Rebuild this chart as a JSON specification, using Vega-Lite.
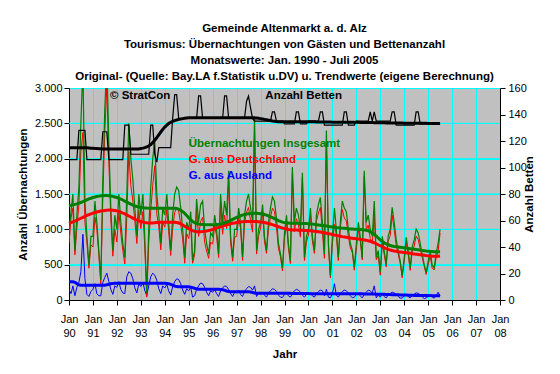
{
"$schema": "https://vega.github.io/schema/vega-lite/v6.json",
"width": 431, "height": 212,
"autosize": {"type": "none"},
"padding": {"left": 69, "top": 88, "right": 60, "bottom": 74},
"background": "white",
"title": {"text": ["Gemeinde Altenmarkt a. d. Alz", "Tourismus: Übernachtungen von Gästen und Bettenanzahl", "Monatswerte: Jan. 1990 - Juli 2005", "Original- (Quelle: Bay.LA f.Statistik u.DV) u. Trendwerte (eigene Berechnung)"], "anchor": "middle", "frame": "group", "font": "Liberation Sans", "fontSize": 11.5, "fontWeight": "bold", "color": "black", "lineHeight": 16.3, "offset": -1},
"data": {"values": [
{"d":"1990-01-01","t":950,"g":800,"a":150,"tt":1334,"tg":1085,"ta":259,"b":106,"tb":115},
{"d":"1990-02-01","t":1250,"g":1160,"a":90,"tt":1340,"tg":1095,"ta":259,"b":106,"tb":115},
{"d":"1990-03-01","t":1500,"g":1300,"a":200,"tt":1346,"tg":1105,"ta":258,"b":106,"tb":115},
{"d":"1990-04-01","t":700,"g":640,"a":60,"tt":1353,"tg":1117,"ta":250,"b":106,"tb":115},
{"d":"1990-05-01","t":1200,"g":1020,"a":180,"tt":1361,"tg":1130,"ta":232,"b":106,"tb":115},
{"d":"1990-06-01","t":1600,"g":1350,"a":250,"tt":1370,"tg":1143,"ta":215,"b":128,"tb":115},
{"d":"1990-07-01","t":2500,"g":2100,"a":400,"tt":1380,"tg":1157,"ta":210,"b":128,"tb":115},
{"d":"1990-08-01","t":3300,"g":2370,"a":930,"tt":1392,"tg":1170,"ta":208,"b":128,"tb":115},
{"d":"1990-09-01","t":1400,"g":1100,"a":300,"tt":1405,"tg":1183,"ta":208,"b":128,"tb":115},
{"d":"1990-10-01","t":900,"g":820,"a":80,"tt":1418,"tg":1196,"ta":208,"b":106,"tb":115},
{"d":"1990-11-01","t":500,"g":450,"a":50,"tt":1430,"tg":1208,"ta":208,"b":106,"tb":114.8},
{"d":"1990-12-01","t":900,"g":780,"a":120,"tt":1440,"tg":1219,"ta":208,"b":106,"tb":114.6},
{"d":"1991-01-01","t":900,"g":750,"a":150,"tt":1450,"tg":1229,"ta":208,"b":106,"tb":114.5},
{"d":"1991-02-01","t":1400,"g":1170,"a":230,"tt":1458,"tg":1238,"ta":208,"b":106,"tb":114.4},
{"d":"1991-03-01","t":1100,"g":1010,"a":90,"tt":1465,"tg":1246,"ta":208,"b":106,"tb":114.3},
{"d":"1991-04-01","t":700,"g":640,"a":60,"tt":1470,"tg":1253,"ta":208,"b":106,"tb":114.2},
{"d":"1991-05-01","t":280,"g":220,"a":60,"tt":1474,"tg":1259,"ta":208,"b":106,"tb":114.1},
{"d":"1991-06-01","t":1700,"g":1450,"a":250,"tt":1476,"tg":1264,"ta":208,"b":127,"tb":114},
{"d":"1991-07-01","t":2700,"g":2380,"a":320,"tt":1478,"tg":1268,"ta":210,"b":127,"tb":114},
{"d":"1991-08-01","t":3400,"g":3020,"a":380,"tt":1478,"tg":1271,"ta":215,"b":127,"tb":114},
{"d":"1991-09-01","t":2200,"g":1940,"a":260,"tt":1476,"tg":1273,"ta":222,"b":106,"tb":114},
{"d":"1991-10-01","t":1300,"g":1150,"a":150,"tt":1472,"tg":1273,"ta":230,"b":106,"tb":114},
{"d":"1991-11-01","t":700,"g":620,"a":80,"tt":1466,"tg":1271,"ta":235,"b":106,"tb":114},
{"d":"1991-12-01","t":1200,"g":1000,"a":200,"tt":1458,"tg":1267,"ta":236,"b":106,"tb":114},
{"d":"1992-01-01","t":1000,"g":820,"a":180,"tt":1450,"tg":1261,"ta":236,"b":106,"tb":114},
{"d":"1992-02-01","t":1500,"g":1240,"a":260,"tt":1440,"tg":1253,"ta":236,"b":106,"tb":114},
{"d":"1992-03-01","t":1100,"g":950,"a":150,"tt":1428,"tg":1243,"ta":236,"b":106,"tb":114},
{"d":"1992-04-01","t":800,"g":700,"a":100,"tt":1415,"tg":1231,"ta":236,"b":106,"tb":114},
{"d":"1992-05-01","t":600,"g":510,"a":90,"tt":1400,"tg":1218,"ta":236,"b":132,"tb":114},
{"d":"1992-06-01","t":1500,"g":1170,"a":330,"tt":1385,"tg":1204,"ta":236,"b":132,"tb":114},
{"d":"1992-07-01","t":2500,"g":2100,"a":400,"tt":1370,"tg":1189,"ta":236,"b":132,"tb":114},
{"d":"1992-08-01","t":2000,"g":1620,"a":380,"tt":1356,"tg":1174,"ta":236,"b":110,"tb":114},
{"d":"1992-09-01","t":1700,"g":1400,"a":300,"tt":1343,"tg":1159,"ta":236,"b":110,"tb":114},
{"d":"1992-10-01","t":1300,"g":1130,"a":170,"tt":1332,"tg":1145,"ta":236,"b":110,"tb":114},
{"d":"1992-11-01","t":900,"g":800,"a":100,"tt":1323,"tg":1132,"ta":236,"b":110,"tb":114},
{"d":"1992-12-01","t":1500,"g":1270,"a":230,"tt":1316,"tg":1120,"ta":236,"b":110,"tb":114},
{"d":"1993-01-01","t":1200,"g":1010,"a":190,"tt":1310,"tg":1110,"ta":236,"b":110,"tb":114.3},
{"d":"1993-02-01","t":1500,"g":1250,"a":250,"tt":1306,"tg":1102,"ta":236,"b":110,"tb":114.6},
{"d":"1993-03-01","t":900,"g":760,"a":140,"tt":1303,"tg":1096,"ta":236,"b":110,"tb":115},
{"d":"1993-04-01","t":100,"g":40,"a":60,"tt":1301,"tg":1092,"ta":236,"b":110,"tb":115.5},
{"d":"1993-05-01","t":1000,"g":800,"a":200,"tt":1300,"tg":1090,"ta":236,"b":110,"tb":116.2},
{"d":"1993-06-01","t":1600,"g":1270,"a":330,"tt":1300,"tg":1090,"ta":236,"b":132,"tb":117.3},
{"d":"1993-07-01","t":2000,"g":1620,"a":380,"tt":1300,"tg":1091,"ta":236,"b":132,"tb":118.8},
{"d":"1993-08-01","t":2250,"g":1900,"a":350,"tt":1300,"tg":1093,"ta":236,"b":110,"tb":120.6},
{"d":"1993-09-01","t":1500,"g":1220,"a":280,"tt":1300,"tg":1095,"ta":236,"b":104,"tb":122.6},
{"d":"1993-10-01","t":1200,"g":1040,"a":160,"tt":1300,"tg":1097,"ta":236,"b":115,"tb":124.7},
{"d":"1993-11-01","t":800,"g":710,"a":90,"tt":1300,"tg":1099,"ta":236,"b":115,"tb":126.8},
{"d":"1993-12-01","t":1300,"g":1100,"a":200,"tt":1300,"tg":1100,"ta":236,"b":115,"tb":128.8},
{"d":"1994-01-01","t":1200,"g":1030,"a":170,"tt":1300,"tg":1101,"ta":236,"b":115,"tb":130.5},
{"d":"1994-02-01","t":1500,"g":1280,"a":220,"tt":1300,"tg":1102,"ta":234,"b":115,"tb":132},
{"d":"1994-03-01","t":1100,"g":970,"a":130,"tt":1300,"tg":1102,"ta":230,"b":115,"tb":133.2},
{"d":"1994-04-01","t":700,"g":630,"a":70,"tt":1300,"tg":1102,"ta":222,"b":115,"tb":134.1},
{"d":"1994-05-01","t":1200,"g":1010,"a":190,"tt":1300,"tg":1101,"ta":210,"b":137,"tb":134.8},
{"d":"1994-06-01","t":1500,"g":1240,"a":260,"tt":1298,"tg":1100,"ta":198,"b":155,"tb":135.4},
{"d":"1994-07-01","t":1600,"g":1300,"a":300,"tt":1294,"tg":1097,"ta":190,"b":155,"tb":135.9},
{"d":"1994-08-01","t":1550,"g":1260,"a":290,"tt":1285,"tg":1090,"ta":188,"b":137,"tb":136.3},
{"d":"1994-09-01","t":1300,"g":1070,"a":230,"tt":1270,"tg":1078,"ta":188,"b":137,"tb":136.6},
{"d":"1994-10-01","t":1000,"g":860,"a":140,"tt":1250,"tg":1062,"ta":188,"b":137,"tb":136.9},
{"d":"1994-11-01","t":600,"g":520,"a":80,"tt":1225,"tg":1044,"ta":188,"b":137,"tb":137.1},
{"d":"1994-12-01","t":1100,"g":940,"a":160,"tt":1196,"tg":1025,"ta":188,"b":137,"tb":137.3},
{"d":"1995-01-01","t":1000,"g":870,"a":130,"tt":1165,"tg":1008,"ta":186,"b":137,"tb":137.5},
{"d":"1995-02-01","t":1250,"g":1070,"a":180,"tt":1135,"tg":993,"ta":182,"b":137,"tb":137.6},
{"d":"1995-03-01","t":560,"g":520,"a":40,"tt":1112,"tg":981,"ta":175,"b":137,"tb":137.6},
{"d":"1995-04-01","t":700,"g":640,"a":60,"tt":1095,"tg":972,"ta":166,"b":137,"tb":137.6},
{"d":"1995-05-01","t":1430,"g":1280,"a":150,"tt":1083,"tg":967,"ta":158,"b":137,"tb":137.6},
{"d":"1995-06-01","t":1100,"g":900,"a":200,"tt":1076,"tg":965,"ta":153,"b":154,"tb":137.6},
{"d":"1995-07-01","t":1350,"g":1110,"a":240,"tt":1071,"tg":966,"ta":151,"b":154,"tb":137.6},
{"d":"1995-08-01","t":1400,"g":1170,"a":230,"tt":1068,"tg":968,"ta":151,"b":137,"tb":137.6},
{"d":"1995-09-01","t":1000,"g":820,"a":180,"tt":1066,"tg":972,"ta":151,"b":137,"tb":137.6},
{"d":"1995-10-01","t":800,"g":690,"a":110,"tt":1065,"tg":977,"ta":151,"b":137,"tb":137.6},
{"d":"1995-11-01","t":650,"g":590,"a":60,"tt":1064,"tg":984,"ta":151,"b":137,"tb":137.6},
{"d":"1995-12-01","t":950,"g":820,"a":130,"tt":1064,"tg":991,"ta":151,"b":137,"tb":137.6},
{"d":"1996-01-01","t":900,"g":790,"a":110,"tt":1064,"tg":999,"ta":151,"b":137,"tb":137.6},
{"d":"1996-02-01","t":1200,"g":1050,"a":150,"tt":1065,"tg":1008,"ta":151,"b":137,"tb":137.6},
{"d":"1996-03-01","t":1000,"g":910,"a":90,"tt":1067,"tg":1017,"ta":151,"b":137,"tb":137.6},
{"d":"1996-04-01","t":650,"g":600,"a":50,"tt":1070,"tg":1027,"ta":151,"b":137,"tb":137.6},
{"d":"1996-05-01","t":1500,"g":1370,"a":130,"tt":1075,"tg":1037,"ta":150,"b":137,"tb":137.6},
{"d":"1996-06-01","t":1100,"g":930,"a":170,"tt":1082,"tg":1046,"ta":146,"b":137,"tb":137.6},
{"d":"1996-07-01","t":1400,"g":1200,"a":200,"tt":1091,"tg":1055,"ta":138,"b":154,"tb":137.6},
{"d":"1996-08-01","t":1200,"g":1010,"a":190,"tt":1102,"tg":1064,"ta":128,"b":154,"tb":137.6},
{"d":"1996-09-01","t":1830,"g":1680,"a":150,"tt":1114,"tg":1072,"ta":121,"b":137,"tb":137.6},
{"d":"1996-10-01","t":900,"g":810,"a":90,"tt":1127,"tg":1079,"ta":118,"b":137,"tb":137.6},
{"d":"1996-11-01","t":600,"g":550,"a":50,"tt":1141,"tg":1086,"ta":118,"b":137,"tb":137.6},
{"d":"1996-12-01","t":1000,"g":890,"a":110,"tt":1155,"tg":1091,"ta":118,"b":137,"tb":137.6},
{"d":"1997-01-01","t":1000,"g":900,"a":100,"tt":1168,"tg":1096,"ta":118,"b":137,"tb":137.6},
{"d":"1997-02-01","t":1300,"g":1160,"a":140,"tt":1180,"tg":1100,"ta":118,"b":137,"tb":137.6},
{"d":"1997-03-01","t":1100,"g":1020,"a":80,"tt":1192,"tg":1103,"ta":118,"b":137,"tb":137.6},
{"d":"1997-04-01","t":610,"g":560,"a":50,"tt":1202,"tg":1106,"ta":118,"b":137,"tb":137.6},
{"d":"1997-05-01","t":1200,"g":1080,"a":120,"tt":1210,"tg":1108,"ta":118,"b":137,"tb":137.6},
{"d":"1997-06-01","t":1400,"g":1240,"a":160,"tt":1216,"tg":1110,"ta":118,"b":150,"tb":137.6},
{"d":"1997-07-01","t":1500,"g":1310,"a":190,"tt":1220,"tg":1111,"ta":116,"b":154,"tb":137.6},
{"d":"1997-08-01","t":1300,"g":1120,"a":180,"tt":1223,"tg":1112,"ta":112,"b":145,"tb":137.6},
{"d":"1997-09-01","t":1100,"g":960,"a":140,"tt":1225,"tg":1112,"ta":106,"b":137,"tb":137.5},
{"d":"1997-10-01","t":2600,"g":2400,"a":200,"tt":1226,"tg":1111,"ta":100,"b":135,"tb":137.4},
{"d":"1997-11-01","t":700,"g":650,"a":50,"tt":1226,"tg":1110,"ta":96,"b":135,"tb":137.3},
{"d":"1997-12-01","t":1000,"g":900,"a":100,"tt":1225,"tg":1108,"ta":94,"b":135,"tb":137.1},
{"d":"1998-01-01","t":1100,"g":1020,"a":80,"tt":1222,"tg":1105,"ta":94,"b":135,"tb":136.9},
{"d":"1998-02-01","t":1350,"g":1240,"a":110,"tt":1217,"tg":1101,"ta":94,"b":135,"tb":136.6},
{"d":"1998-03-01","t":900,"g":830,"a":70,"tt":1210,"tg":1096,"ta":94,"b":135,"tb":136.3},
{"d":"1998-04-01","t":700,"g":660,"a":40,"tt":1201,"tg":1090,"ta":94,"b":135,"tb":136},
{"d":"1998-05-01","t":1100,"g":1000,"a":100,"tt":1190,"tg":1083,"ta":94,"b":135,"tb":135.7},
{"d":"1998-06-01","t":1300,"g":1170,"a":130,"tt":1178,"tg":1075,"ta":94,"b":135,"tb":135.4},
{"d":"1998-07-01","t":1460,"g":1300,"a":160,"tt":1165,"tg":1066,"ta":94,"b":142,"tb":135.1},
{"d":"1998-08-01","t":1400,"g":1250,"a":150,"tt":1151,"tg":1057,"ta":94,"b":142,"tb":134.9},
{"d":"1998-09-01","t":1150,"g":1030,"a":120,"tt":1137,"tg":1047,"ta":94,"b":135,"tb":134.7},
{"d":"1998-10-01","t":800,"g":730,"a":70,"tt":1124,"tg":1037,"ta":94,"b":135,"tb":134.6},
{"d":"1998-11-01","t":650,"g":610,"a":40,"tt":1112,"tg":1027,"ta":94,"b":135,"tb":134.6},
{"d":"1998-12-01","t":450,"g":415,"a":35,"tt":1102,"tg":1018,"ta":94,"b":135,"tb":134.6},
{"d":"1999-01-01","t":950,"g":870,"a":80,"tt":1095,"tg":1010,"ta":94,"b":133,"tb":134.6},
{"d":"1999-02-01","t":1200,"g":1090,"a":110,"tt":1091,"tg":1004,"ta":94,"b":133,"tb":134.6},
{"d":"1999-03-01","t":800,"g":740,"a":60,"tt":1089,"tg":999,"ta":94,"b":133,"tb":134.6},
{"d":"1999-04-01","t":556,"g":516,"a":40,"tt":1087,"tg":995,"ta":94,"b":133,"tb":134.6},
{"d":"1999-05-01","t":1880,"g":1790,"a":90,"tt":1086,"tg":992,"ta":93,"b":133,"tb":134.6},
{"d":"1999-06-01","t":1100,"g":970,"a":130,"tt":1085,"tg":990,"ta":93,"b":133,"tb":134.6},
{"d":"1999-07-01","t":1300,"g":1150,"a":150,"tt":1085,"tg":989,"ta":93,"b":142,"tb":134.6},
{"d":"1999-08-01","t":1200,"g":1060,"a":140,"tt":1085,"tg":988,"ta":92,"b":142,"tb":134.6},
{"d":"1999-09-01","t":1000,"g":890,"a":110,"tt":1084,"tg":987,"ta":92,"b":133,"tb":134.6},
{"d":"1999-10-01","t":1800,"g":1730,"a":70,"tt":1083,"tg":986,"ta":92,"b":133,"tb":134.6},
{"d":"1999-11-01","t":600,"g":560,"a":40,"tt":1082,"tg":985,"ta":91,"b":133,"tb":134.6},
{"d":"1999-12-01","t":900,"g":820,"a":80,"tt":1081,"tg":984,"ta":91,"b":133,"tb":134.6},
{"d":"2000-01-01","t":1000,"g":920,"a":80,"tt":1080,"tg":982,"ta":91,"b":135,"tb":134.5},
{"d":"2000-02-01","t":1300,"g":1200,"a":100,"tt":1077,"tg":980,"ta":90,"b":135,"tb":134.5},
{"d":"2000-03-01","t":900,"g":840,"a":60,"tt":1074,"tg":977,"ta":90,"b":135,"tb":134.5},
{"d":"2000-04-01","t":700,"g":660,"a":40,"tt":1070,"tg":974,"ta":90,"b":135,"tb":134.5},
{"d":"2000-05-01","t":1200,"g":1110,"a":90,"tt":1066,"tg":970,"ta":90,"b":135,"tb":134.4},
{"d":"2000-06-01","t":1350,"g":1230,"a":120,"tt":1062,"tg":966,"ta":90,"b":135,"tb":134.4},
{"d":"2000-07-01","t":1450,"g":1310,"a":140,"tt":1058,"tg":961,"ta":90,"b":142,"tb":134.4},
{"d":"2000-08-01","t":1100,"g":970,"a":130,"tt":1054,"tg":956,"ta":90,"b":142,"tb":134.4},
{"d":"2000-09-01","t":650,"g":590,"a":60,"tt":1050,"tg":951,"ta":90,"b":132,"tb":134.3},
{"d":"2000-10-01","t":2400,"g":2250,"a":150,"tt":1046,"tg":945,"ta":90,"b":132,"tb":134.3},
{"d":"2000-11-01","t":800,"g":760,"a":40,"tt":1042,"tg":939,"ta":90,"b":132,"tb":134.3},
{"d":"2000-12-01","t":344,"g":314,"a":30,"tt":1038,"tg":933,"ta":90,"b":132,"tb":134.3},
{"d":"2001-01-01","t":900,"g":810,"a":90,"tt":1034,"tg":927,"ta":90,"b":132,"tb":134.2},
{"d":"2001-02-01","t":1300,"g":1070,"a":230,"tt":1030,"tg":921,"ta":90,"b":132,"tb":134.2},
{"d":"2001-03-01","t":1000,"g":930,"a":70,"tt":1026,"tg":915,"ta":90,"b":132,"tb":134.2},
{"d":"2001-04-01","t":600,"g":560,"a":40,"tt":1023,"tg":909,"ta":90,"b":132,"tb":134.2},
{"d":"2001-05-01","t":1100,"g":1010,"a":90,"tt":1020,"tg":903,"ta":90,"b":132,"tb":134.2},
{"d":"2001-06-01","t":1400,"g":1280,"a":120,"tt":1017,"tg":897,"ta":90,"b":132,"tb":134.2},
{"d":"2001-07-01","t":1300,"g":1160,"a":140,"tt":1014,"tg":892,"ta":90,"b":142,"tb":134.2},
{"d":"2001-08-01","t":1250,"g":1120,"a":130,"tt":1011,"tg":887,"ta":90,"b":142,"tb":134.2},
{"d":"2001-09-01","t":1000,"g":900,"a":100,"tt":1008,"tg":882,"ta":90,"b":132,"tb":134.2},
{"d":"2001-10-01","t":800,"g":740,"a":60,"tt":1005,"tg":878,"ta":90,"b":132,"tb":134.2},
{"d":"2001-11-01","t":700,"g":670,"a":30,"tt":1003,"tg":874,"ta":90,"b":132,"tb":134.2},
{"d":"2001-12-01","t":462,"g":422,"a":40,"tt":1001,"tg":870,"ta":90,"b":132,"tb":134.2},
{"d":"2002-01-01","t":800,"g":720,"a":80,"tt":1000,"tg":866,"ta":88,"b":135,"tb":134.1},
{"d":"2002-02-01","t":1100,"g":1000,"a":100,"tt":998,"tg":862,"ta":88,"b":135,"tb":134.1},
{"d":"2002-03-01","t":900,"g":840,"a":60,"tt":996,"tg":858,"ta":87,"b":135,"tb":134},
{"d":"2002-04-01","t":600,"g":570,"a":30,"tt":994,"tg":854,"ta":87,"b":135,"tb":134},
{"d":"2002-05-01","t":1830,"g":1750,"a":80,"tt":992,"tg":850,"ta":86,"b":135,"tb":134},
{"d":"2002-06-01","t":1100,"g":990,"a":110,"tt":988,"tg":845,"ta":86,"b":135,"tb":134},
{"d":"2002-07-01","t":1200,"g":1060,"a":140,"tt":980,"tg":839,"ta":85,"b":135,"tb":133.9},
{"d":"2002-08-01","t":1000,"g":870,"a":130,"tt":968,"tg":831,"ta":85,"b":142,"tb":133.9},
{"d":"2002-09-01","t":900,"g":800,"a":100,"tt":950,"tg":821,"ta":84,"b":135,"tb":133.9},
{"d":"2002-10-01","t":1400,"g":1200,"a":200,"tt":930,"tg":809,"ta":84,"b":142,"tb":133.8},
{"d":"2002-11-01","t":600,"g":570,"a":30,"tt":905,"tg":796,"ta":83,"b":135,"tb":133.8},
{"d":"2002-12-01","t":700,"g":630,"a":70,"tt":878,"tg":782,"ta":83,"b":135,"tb":133.8},
{"d":"2003-01-01","t":392,"g":352,"a":40,"tt":850,"tg":768,"ta":82,"b":135,"tb":133.7},
{"d":"2003-02-01","t":900,"g":810,"a":90,"tt":828,"tg":754,"ta":81,"b":135,"tb":133.7},
{"d":"2003-03-01","t":700,"g":650,"a":50,"tt":810,"tg":740,"ta":80,"b":135,"tb":133.7},
{"d":"2003-04-01","t":500,"g":470,"a":30,"tt":795,"tg":728,"ta":79,"b":135,"tb":133.6},
{"d":"2003-05-01","t":900,"g":830,"a":70,"tt":782,"tg":717,"ta":78,"b":135,"tb":133.6},
{"d":"2003-06-01","t":1000,"g":910,"a":90,"tt":772,"tg":708,"ta":77,"b":135,"tb":133.6},
{"d":"2003-07-01","t":1311,"g":1201,"a":110,"tt":764,"tg":700,"ta":76,"b":142,"tb":133.6},
{"d":"2003-08-01","t":1100,"g":1000,"a":100,"tt":758,"tg":694,"ta":75,"b":142,"tb":133.5},
{"d":"2003-09-01","t":850,"g":770,"a":80,"tt":754,"tg":689,"ta":74,"b":132,"tb":133.5},
{"d":"2003-10-01","t":700,"g":650,"a":50,"tt":750,"tg":684,"ta":73,"b":132,"tb":133.5},
{"d":"2003-11-01","t":550,"g":525,"a":25,"tt":746,"tg":680,"ta":72,"b":132,"tb":133.5},
{"d":"2003-12-01","t":344,"g":314,"a":30,"tt":742,"tg":676,"ta":71,"b":132,"tb":133.5},
{"d":"2004-01-01","t":600,"g":545,"a":55,"tt":738,"tg":672,"ta":70,"b":132,"tb":133.4},
{"d":"2004-02-01","t":887,"g":807,"a":80,"tt":734,"tg":668,"ta":69,"b":132,"tb":133.4},
{"d":"2004-03-01","t":700,"g":650,"a":50,"tt":730,"tg":664,"ta":68,"b":132,"tb":133.4},
{"d":"2004-04-01","t":450,"g":420,"a":30,"tt":726,"tg":660,"ta":67,"b":132,"tb":133.4},
{"d":"2004-05-01","t":750,"g":685,"a":65,"tt":722,"tg":656,"ta":66,"b":132,"tb":133.4},
{"d":"2004-06-01","t":850,"g":765,"a":85,"tt":718,"tg":652,"ta":65,"b":132,"tb":133.4},
{"d":"2004-07-01","t":1004,"g":904,"a":100,"tt":714,"tg":648,"ta":64,"b":142,"tb":133.4},
{"d":"2004-08-01","t":950,"g":855,"a":95,"tt":710,"tg":644,"ta":64,"b":142,"tb":133.4},
{"d":"2004-09-01","t":800,"g":725,"a":75,"tt":706,"tg":640,"ta":63,"b":133,"tb":133.4},
{"d":"2004-10-01","t":650,"g":605,"a":45,"tt":702,"tg":636,"ta":63,"b":133,"tb":133.4},
{"d":"2004-11-01","t":500,"g":480,"a":20,"tt":698,"tg":632,"ta":62,"b":133,"tb":133.4},
{"d":"2004-12-01","t":392,"g":362,"a":30,"tt":694,"tg":628,"ta":62,"b":133,"tb":133.4},
{"d":"2005-01-01","t":550,"g":500,"a":50,"tt":691,"tg":625,"ta":62,"b":133,"tb":133.3},
{"d":"2005-02-01","t":700,"g":625,"a":75,"tt":688,"tg":622,"ta":62,"b":133,"tb":133.3},
{"d":"2005-03-01","t":500,"g":455,"a":45,"tt":686,"tg":620,"ta":61,"b":133,"tb":133.3},
{"d":"2005-04-01","t":450,"g":425,"a":25,"tt":684,"tg":619,"ta":61,"b":133,"tb":133.3},
{"d":"2005-05-01","t":650,"g":590,"a":60,"tt":683,"tg":619,"ta":60,"b":133,"tb":133.3},
{"d":"2005-06-01","t":800,"g":690,"a":110,"tt":683,"tg":620,"ta":60,"b":133,"tb":133.3},
{"d":"2005-07-01","t":1004,"g":947,"a":57,"tt":683,"tg":622,"ta":60,"b":133,"tb":133.3}
]},
"layer": [
  {"layer": [
    {"data": {"values": [{"gv": 500}, {"gv": 1000}, {"gv": 1500}, {"gv": 2000}, {"gv": 2500}]},
     "mark": {"type": "rule", "color": "#00FFFF", "strokeWidth": 1},
     "encoding": {"y": {"field": "gv", "type": "quantitative"}}},
    {"mark": {"type": "line", "color": "#0000FF", "strokeWidth": 1, "clip": true},
     "encoding": {
       "x": {"field": "d", "type": "temporal",
         "scale": {"type": "utc", "domain": [{"year": 1990, "month": 1, "date": 1, "utc": true}, {"year": 2008, "month": 1, "date": 1, "utc": true}]},
         "axis": {"title": "Jahr", "tickCount": {"interval": "year", "step": 1},
           "labelExpr": "['Jan', utcFormat(datum.value, '%y')]",
           "labelOverlap": false, "labelFlush": false, "labelBound": false,
           "labelLineHeight": 14, "labelPadding": 8, "tickSize": 5,
           "grid": true, "gridColor": "#00FFFF", "titlePadding": 10}},
       "y": {"field": "a", "type": "quantitative", "scale": {"domain": [0, 3000], "nice": false},
         "axis": {"title": "Anzahl Übernachtungen", "values": [0, 500, 1000, 1500, 2000, 2500, 3000], "tickCount": 12, "labelExpr": "replace(format(datum.value, ','), ',', '.')", "labelOverlap": false, "tickSize": 5, "labelPadding": 2, "grid": true, "gridColor": "#00FFFF", "titlePadding": 6}}}},
    {"mark": {"type": "line", "color": "#FF0000", "strokeWidth": 1, "clip": true},
     "encoding": {"x": {"field": "d", "type": "temporal"}, "y": {"field": "g", "type": "quantitative"}}},
    {"mark": {"type": "line", "color": "#008000", "strokeWidth": 1.2, "clip": true},
     "encoding": {"x": {"field": "d", "type": "temporal"}, "y": {"field": "t", "type": "quantitative"}}},
    {"mark": {"type": "line", "color": "#0000FF", "strokeWidth": 3},
     "encoding": {"x": {"field": "d", "type": "temporal"}, "y": {"field": "ta", "type": "quantitative"}}},
    {"mark": {"type": "line", "color": "#FF0000", "strokeWidth": 3},
     "encoding": {"x": {"field": "d", "type": "temporal"}, "y": {"field": "tg", "type": "quantitative"}}},
    {"mark": {"type": "line", "color": "#008000", "strokeWidth": 3},
     "encoding": {"x": {"field": "d", "type": "temporal"}, "y": {"field": "tt", "type": "quantitative"}}},
    {"data": {"values": [{"d": "1991-09-18", "v": 2885, "s": "© StratCon"}, {"d": "1998-03-15", "v": 2885, "s": "Anzahl Betten"}]},
     "mark": {"type": "text", "align": "left", "baseline": "middle", "font": "Liberation Sans", "fontWeight": "bold", "fontSize": 11.5, "color": "black"},
     "encoding": {"x": {"field": "d", "type": "temporal"}, "y": {"field": "v", "type": "quantitative"}, "text": {"field": "s"}}},
    {"data": {"values": [{"d": "1995-01-01", "v": 2206, "s": "Übernachtungen Insgesamt"}]},
     "mark": {"type": "text", "align": "left", "baseline": "middle", "font": "Liberation Sans", "fontWeight": "bold", "fontSize": 11.5, "color": "#008000"},
     "encoding": {"x": {"field": "d", "type": "temporal"}, "y": {"field": "v", "type": "quantitative"}, "text": {"field": "s"}}},
    {"data": {"values": [{"d": "1995-01-01", "v": 1980, "s": "G. aus Deutschland"}]},
     "mark": {"type": "text", "align": "left", "baseline": "middle", "font": "Liberation Sans", "fontWeight": "bold", "fontSize": 11.5, "color": "#FF0000"},
     "encoding": {"x": {"field": "d", "type": "temporal"}, "y": {"field": "v", "type": "quantitative"}, "text": {"field": "s"}}},
    {"data": {"values": [{"d": "1995-01-01", "v": 1758, "s": "G. aus Ausland"}]},
     "mark": {"type": "text", "align": "left", "baseline": "middle", "font": "Liberation Sans", "fontWeight": "bold", "fontSize": 11.5, "color": "#0000FF"},
     "encoding": {"x": {"field": "d", "type": "temporal"}, "y": {"field": "v", "type": "quantitative"}, "text": {"field": "s"}}}
  ]},
  {"layer": [
    {"mark": {"type": "line", "color": "black", "strokeWidth": 1.2},
     "encoding": {"x": {"field": "d", "type": "temporal"},
       "y": {"field": "b", "type": "quantitative", "scale": {"domain": [0, 160], "nice": false},
       "axis": {"orient": "right", "title": "Anzahl Betten", "values": [0, 20, 40, 60, 80, 100, 120, 140, 160], "tickCount": 12, "labelOverlap": false, "tickSize": 5, "labelPadding": 3, "grid": false, "titleAngle": -90, "titlePadding": 8}}}},
    {"mark": {"type": "line", "color": "black", "strokeWidth": 3},
     "encoding": {"x": {"field": "d", "type": "temporal"}, "y": {"field": "tb", "type": "quantitative"}}}
  ]}
],
"resolve": {"scale": {"y": "independent"}},
"config": {
  "font": "Liberation Sans",
  "view": {"fill": "#C0C0C0", "stroke": "#808080"},
  "axis": {"labelFont": "Liberation Sans", "labelFontSize": 11, "labelColor": "black", "titleFont": "Liberation Sans", "titleFontSize": 11.5, "titleFontWeight": "bold", "titleColor": "black", "domainColor": "black", "tickColor": "black", "gridColor": "#00FFFF", "gridWidth": 1},
  "axisRight": {"grid": false}
}
}
